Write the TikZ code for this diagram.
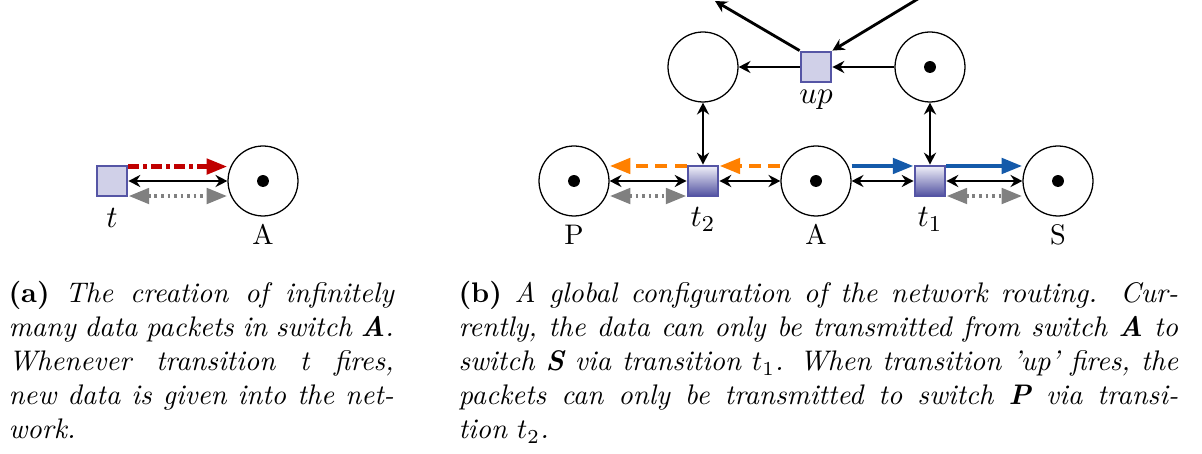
\documentclass[tikz,border=0pt]{standalone}
\usetikzlibrary{arrows.meta,calc}
\definecolor{trfill}{RGB}{208,208,232}
\definecolor{trdraw}{RGB}{85,85,165}
\definecolor{shtop}{RGB}{242,242,250}
\definecolor{shbot}{RGB}{80,80,160}
\definecolor{cred}{RGB}{192,0,0}
\definecolor{corange}{RGB}{255,128,0}
\definecolor{cblue}{RGB}{20,90,170}
\definecolor{cgray}{RGB}{128,128,128}
\begin{document}
\begin{tikzpicture}[x=0.353pt,y=-0.353pt,
  place/.style={circle,draw,line width=0.45pt,minimum size=24.7pt,inner sep=0pt},
  token/.style={circle,fill,minimum size=4.2pt,inner sep=0pt},
  trans/.style={rectangle,draw=trdraw,line width=0.7pt,fill=trfill,minimum size=10.9pt,inner sep=0pt},
  transsh/.style={rectangle,draw=trdraw,line width=0.7pt,top color=shtop,bottom color=shbot,minimum size=10.9pt,inner sep=0pt},
  blk/.style={line width=1pt,-{Stealth[length=4.2pt,width=4.3pt,inset=1.4pt]}},
  biblk/.style={line width=1pt,{Stealth[length=4.2pt,width=4.3pt,inset=1.4pt]}-{Stealth[length=4.2pt,width=4.3pt,inset=1.4pt]}},
  colarc/.style={line width=1.6pt,-{Triangle[length=7.3pt,width=5.3pt]}},
  bicolarc/.style={line width=1.6pt,{Triangle[length=7.3pt,width=5.3pt]}-{Triangle[length=7.3pt,width=5.3pt]}},
  lbl/.style={anchor=base,inner sep=0pt},
  mlbl/.style={anchor=base,inner sep=0pt,font=\fontsize{11}{13}\selectfont},
  captext/.style={anchor=north west,inner sep=0pt,align=justify,font=\normalsize}
]
\useasboundingbox (0,0) rectangle (1202,454);
\clip (0,0) rectangle (1202,454);

% ---------- (a)
\node[trans] (t) at (112,181) {};
\node[place] (pA) at (263,181) {};
\node[token] at (pA) {};
\node[mlbl] (tl) at (112,228) {$t$};
\node[lbl] (Al) at (263,245) {A};
\draw[colarc,cred,dash pattern=on 3.6pt off 1.6pt on 1.3pt off 1.6pt] ([yshift=5.1pt]t.east) -- ([yshift=5.1pt]pA.west);
\draw[biblk] (t.east) -- (pA.west);
\draw[bicolarc,cgray,dash pattern=on 0.9pt off 1.4pt] ([yshift=-5.3pt]t.east) -- ([yshift=-5.3pt]pA.west);

% ---------- (b)
\node[place] (P) at (574,181) {};
\node[token] at (P) {};
\node[transsh] (t2) at (703,181) {};
\node[place] (A) at (816,181) {};
\node[token] at (A) {};
\node[transsh] (t1) at (930,181) {};
\node[place] (S) at (1058,181) {};
\node[token] at (S) {};
\node[place] (L) at (703,67) {};
\node[trans] (up) at (816,67) {};
\node[place] (R) at (930,67) {};
\node[token] at (R) {};

\node[lbl] (Pl) at (574,245) {P};
\node[mlbl] (t2l) at (703,227) {$t_2$};
\node[lbl] (Al2) at (816,245) {A};
\node[mlbl] (t1l) at (930,227) {$t_1$};
\node[lbl] (Sl) at (1058,245) {S};
\node[mlbl] (upl) at (816,104) {$up$};

\coordinate (outL) at (715,1);
\coordinate (outR) at (926,-6);

% upper arcs
\draw[blk] (up.west) -- (L.east);
\draw[blk] (R.west) -- (up.east);
\draw[blk] (up.north west) -- (outL);
\draw[blk] (outR) -- (up.north east);
\draw[biblk] (L.south) -- (t2.north);
\draw[biblk] (R.south) -- (t1.north);

% middle row
\draw[biblk] (P.east) -- (t2.west);
\draw[biblk] (t2.east) -- (A.west);
\draw[biblk] (A.east) -- (t1.west);
\draw[biblk] (t1.east) -- (S.west);

\draw[colarc,corange,dash pattern=on 4.2pt off 2.6pt] ([yshift=5.3pt]t2.west) -- ([yshift=5.3pt]P.east);
\draw[colarc,corange,dash pattern=on 4.2pt off 2.6pt] ([yshift=5.3pt]A.west) -- ([yshift=5.3pt]t2.east);
\draw[colarc,cblue] ([yshift=5.3pt]A.east) -- ([yshift=5.3pt]t1.west);
\draw[colarc,cblue] ([yshift=5.3pt]t1.east) -- ([yshift=5.3pt]S.west);
\draw[bicolarc,cgray,dash pattern=on 0.9pt off 1.4pt] ([yshift=-5.3pt]P.east) -- ([yshift=-5.3pt]t2.west);
\draw[bicolarc,cgray,dash pattern=on 0.9pt off 1.4pt] ([yshift=-5.3pt]t1.east) -- ([yshift=-5.3pt]S.west);

% ---------- captions
\node[captext,text width=136pt] (capa) at (8,281) {\textbf{(a)}\ \textit{The creation of infinitely\linebreak many data packets in switch \textbf{A}.\linebreak Whenever transition t fires,\linebreak new data is given into the net-\linebreak work.}};
\node[captext,text width=254pt] (capb) at (458,281) {\textbf{(b)} \textit{A global configuration of the network routing. Cur-\linebreak rently, the data can only be transmitted from switch \textbf{A} to\linebreak switch \textbf{S} via transition $t_1$. When transition 'up' fires, the\linebreak packets can only be transmitted to switch \textbf{P} via transi-\linebreak tion $t_2$.}};
\end{tikzpicture}
\end{document}
